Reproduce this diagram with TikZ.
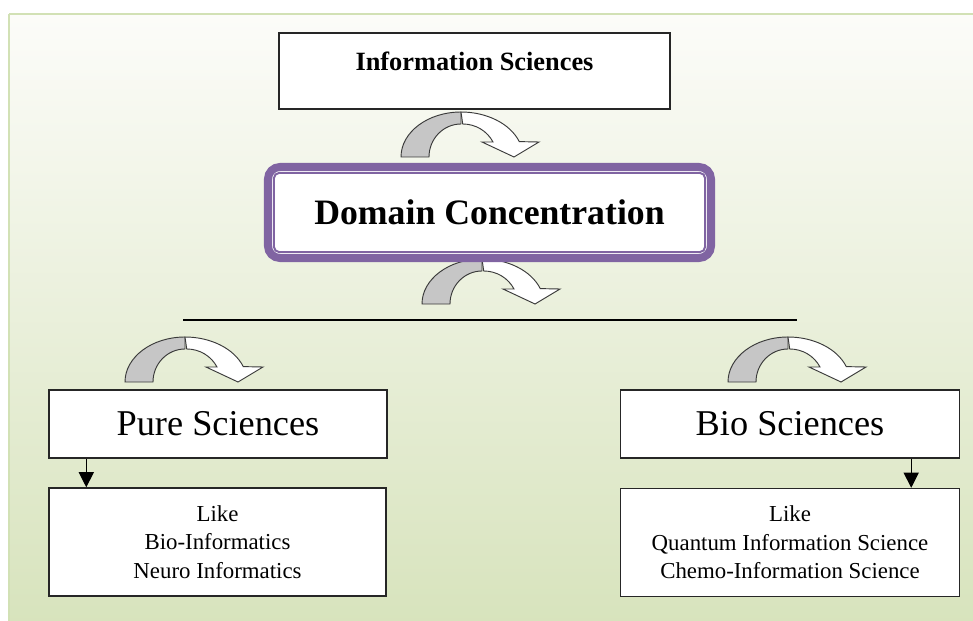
\documentclass[tikz,border=0pt]{standalone}
\usepackage{fontspec}
\setmainfont{Liberation Serif}
\usetikzlibrary{arrows.meta}
\definecolor{bgtop}{HTML}{FCFCF9}
\definecolor{bgbottom}{HTML}{D7E3BC}
\definecolor{bgedge}{HTML}{D2E1B5}
\definecolor{domainpurple}{HTML}{8064A2}
\definecolor{arrgray}{HTML}{C6C6C6}
\definecolor{arrline}{HTML}{3A3A3A}
\tikzset{
	sciencebox/.style={draw=black!85, line width=1.2pt, fill=white, inner sep=0pt},
	backpart/.style={fill=arrgray, draw=arrline, line width=0.8pt},
	frontpart/.style={fill=white, draw=arrline, line width=0.8pt},
	downarrow/.style={draw=black, line width=0.9pt, -{Triangle[length=13pt,width=13pt]}}
}
\begin{document}
\begin{tikzpicture}[x=0.03cm,y=-0.03cm]
				\useasboundingbox (0,0) rectangle (973,621);
				% background frame
				\fill[white] (0,0) rectangle (973,621);
				\shade[top color=bgtop, bottom color=bgbottom] (9,14) rectangle (980,630);
				\draw[bgedge, line width=2.5pt] (9,14) -- (980,14);
				\draw[bgedge, line width=2.5pt] (9,14) -- (9,630);
				
				% curved arrows (left foot of each)
				\foreach \ax/\ay in
				{401/157, 422/304, 125/382, 728/382}{
					\begin{scope}[shift={(\ax,\ay)}]
						\draw[backpart] (0,0) arc[start angle=180, end angle=270, x radius=60, y radius=45]
							-- (60,-33) arc[start angle=270, end angle=180, x radius=32, y radius=33] -- cycle;
						\draw[frontpart] (60,-45) arc[start angle=270, end angle=340, x radius=62, y radius=45]
							-- (138,-15) -- (113,0) -- (81,-15) -- (92,-15)
							arc[start angle=333, end angle=270, x radius=34, y radius=33] -- cycle;
					\end{scope}
				}
				
				% top box
				\node[sciencebox, minimum width=11.73cm, text height=1.14cm, text depth=1.14cm,
					font=\bfseries\fontsize{22.5}{26}\selectfont] (info) at (474.5,71) {Information Sciences};
				
				% domain box
				\node[draw=domainpurple, line width=0.24cm, rounded corners=0.36cm, fill=white,
					minimum width=13.29cm, minimum height=2.73cm, inner sep=0pt,
					font=\bfseries\fontsize{30.5}{36}\selectfont] (domain) at (489.5,212.5) {Domain Concentration};
				\draw[domainpurple, line width=0.06cm, rounded corners=0.15cm]
					([shift={(10,10)}]domain.north west) rectangle ([shift={(-10,-10)}]domain.south east);
				
				% branch line
				\coordinate (branchL) at (183,320);
				\coordinate (branchR) at (797,320);
				\draw[line width=1pt] (branchL) -- (branchR);
				
				% left side
				\node[sciencebox, minimum width=10.14cm, minimum height=2.04cm,
					font=\fontsize{31}{36}\selectfont] (pure) at (218,424) {Pure Sciences};
				\node[sciencebox, minimum width=10.11cm, minimum height=3.24cm, align=center,
					font=\fontsize{19.5}{24.3}\selectfont] (purelike) at (217.5,542)
					{Like\\Bio-Informatics\\Neuro Informatics};
				
				% right side
				\node[sciencebox, minimum width=10.17cm, minimum height=2.04cm,
					font=\fontsize{31}{36}\selectfont] (bio) at (790,424) {Bio Sciences};
				\node[sciencebox, minimum width=10.17cm, minimum height=3.24cm, align=center,
					font=\fontsize{19.5}{24.3}\selectfont] (biolike) at (790,542.5)
					{Like\\Quantum Information Science\\Chemo-Information Science};
				
				\draw[downarrow] ([xshift=38*0.03cm]pure.south west) -- ([xshift=38*0.03cm]purelike.north west);
				\draw[downarrow] ([xshift=-49*0.03cm]bio.south east) -- ([xshift=-49*0.03cm]biolike.north east);
			\end{tikzpicture}
\end{document}
